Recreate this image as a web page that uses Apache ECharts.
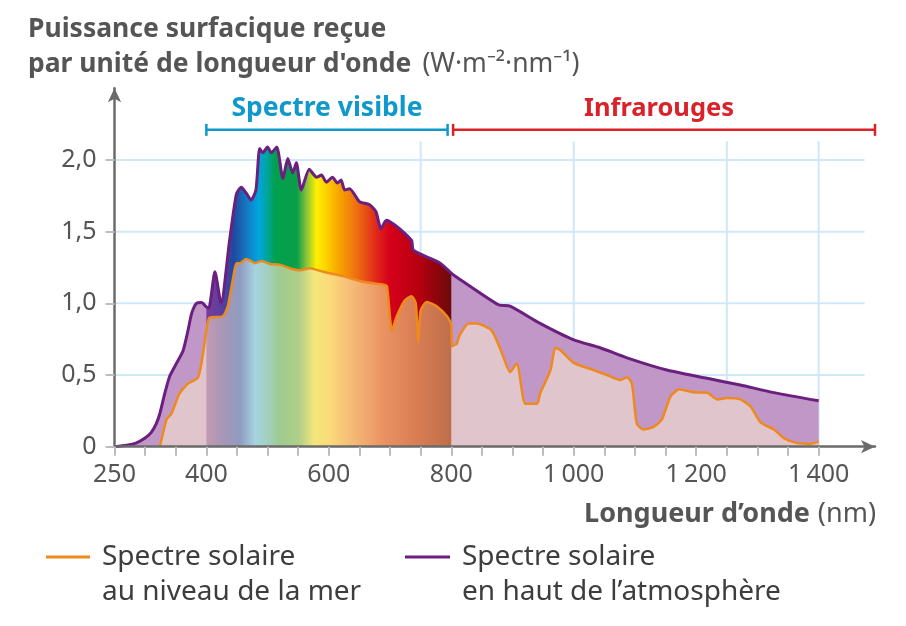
<!DOCTYPE html>
<html><head><meta charset="utf-8">
<script src="https://cdn.jsdelivr.net/npm/echarts@6/dist/echarts.min.js"></script>
<style>html,body{margin:0;padding:0;background:#fff}#c{width:906px;height:626px}</style>
</head><body><div id="c"></div>
<script>
// ---- data ----
// Solar spectrum at the top of the atmosphere (nm, W·m-2·nm-1)
const topAtmosphere = [[250,0],[270,0.01],[285,0.025],[300,0.06],[310,0.1],[318,0.16],[324,0.23],[332,0.37],[340,0.49],[351,0.58],[362,0.67],[370,0.81],[376,0.93],[384,1.0],[392,1.005],[400,0.975],[404,0.965],[414,1.22],[424,1.0],[438,1.44],[449,1.76],[457,1.81],[465,1.77],[473,1.72],[481,1.79],[487,2.08],[492,2.05],[500,2.09],[506,2.05],[515,2.09],[525,1.87],[533,2.01],[541,1.91],[547,1.98],[555,1.79],[568,1.935],[580,1.88],[588,1.895],[596,1.845],[606,1.88],[614,1.84],[620,1.86],[626,1.79],[634,1.80],[650,1.71],[666,1.69],[677,1.64],[685,1.52],[694,1.58],[735,1.44],[738,1.37],[782,1.28],[800,1.21],[803,1.20],[877,0.99],[896,0.98],[945,0.86],[1000,0.745],[1043,0.69],[1087,0.62],[1152,0.535],[1218,0.477],[1272,0.43],[1327,0.377],[1400,0.32]];
// Solar spectrum at sea level
const seaLevel = [[324,0],[329,0.09],[335,0.19],[343,0.23],[356,0.37],[370,0.44],[386,0.48],[392,0.58],[400,0.81],[405,0.90],[427,0.91],[435,0.98],[443,1.16],[449,1.28],[455,1.28],[465,1.31],[471,1.30],[479,1.28],[490,1.295],[504,1.275],[520,1.27],[536,1.245],[553,1.23],[569,1.245],[591,1.22],[623,1.19],[656,1.15],[689,1.13],[695,1.12],[703,0.81],[711,0.91],[724,1.02],[735,1.05],[742,1.00],[746,0.73],[750,0.95],[760,1.01],[776,0.98],[793,0.91],[800,0.85],[801,0.70],[809,0.72],[814,0.78],[828,0.86],[842,0.86],[866,0.81],[883,0.65],[896,0.52],[907,0.58],[921,0.30],[940,0.30],[945,0.37],[962,0.535],[970,0.69],[978,0.675],[1000,0.585],[1032,0.535],[1054,0.50],[1076,0.465],[1087,0.485],[1095,0.44],[1103,0.16],[1114,0.12],[1131,0.14],[1144,0.19],[1158,0.35],[1172,0.40],[1196,0.38],[1218,0.377],[1234,0.33],[1251,0.34],[1272,0.33],[1289,0.28],[1305,0.17],[1327,0.12],[1343,0.06],[1365,0.025],[1387,0.02],[1400,0.035]];
const visibleRange = [400, 800];
const xTickValues = [250,300,350,400,450,500,550,600,650,700,750,800,850,900,950,1000,1050,1100,1150,1200,1250,1300,1350,1400];
const xLabelValues = [250,400,600,800,1000,1200,1400];
const yLabelValues = [0,0.5,1,1.5,2];
const hGridValues = [0.5,1,1.5,2];
const hGridEnd = 1475;
const vGridValues = [750,1000,1250,1400];
const vGridTop = 2.13;
const bandStarts = [400, 803];
const bandEnds = [794, 1492];
const bandLevel = 2.21;
const bandNames = ['Spectre visible', 'Infrarouges'];

// ---- styles ----
const FONT = '"Noto Sans", sans-serif';
const bandColors = ['#0f98cc', '#d9222a'];
const bandFontSizes = [26.5, 25.5];
const vividStops = [[0,'#7a3d9c'],[0.0625,'#5b3ea0'],[0.1125,'#1f4a9f'],[0.1625,'#1577c0'],[0.2125,'#00a5df'],[0.25,'#00a49a'],[0.28,'#00a04e'],[0.37,'#0a9f48'],[0.41,'#8cc43a'],[0.45,'#fff000'],[0.49,'#fdd000'],[0.545,'#f6a200'],[0.62,'#ec6a12'],[0.695,'#e0261a'],[0.75,'#d6001a'],[0.875,'#b30010'],[1,'#6b0a0a']];
const washStops = [[0,'#c39ab3'],[0.075,'#a596b6'],[0.1375,'#8e9cc0'],[0.2,'#a6d3e0'],[0.25,'#a2d0c0'],[0.3,'#9fcb8e'],[0.38,'#b0cf88'],[0.44,'#f3e67c'],[0.5,'#fbdc7a'],[0.6,'#f5b877'],[0.725,'#ea9262'],[0.85,'#da7e54'],[1,'#bf6e4a']];
function grad(stops){return new echarts.graphic.LinearGradient(0,0,1,0,stops.map(s=>({offset:s[0],color:s[1]})));}
const inRange = p => p[0] >= visibleRange[0] && p[0] <= visibleRange[1];
const SM = 0.2;

const gridData = hGridValues.map(v => [250, v, hGridEnd, v]).concat(vGridValues.map(v => [v, 0, v, vGridTop]));
const bandData = bandStarts.map((s, i) => [s, bandEnds[i], bandLevel, i]);

const chart = echarts.init(document.getElementById('c'), null, {renderer:'canvas'});
chart.setOption({
  animation:false,
  backgroundColor:'#fff',
  grid:{left:114.5, right:31, top:88.3, bottom:179.3},
  xAxis:{type:'value', min:250, max:1492, interval:50, z:10,
    axisLine:{show:true, onZero:false, symbol:['none','arrow'], symbolSize:[10,14], lineStyle:{color:'#6b6b6b', width:2.5}},
    axisTick:{show:true, customValues:xTickValues, length:9, lineStyle:{color:'#bdbdbd', width:2}},
    axisLabel:{customValues:xLabelValues, margin:16, fontSize:25, color:'#555', fontFamily:FONT,
      formatter:v => v >= 1000 ? String(v).replace(/(\d)(\d{3})$/, '$1\u2009$2') : String(v)},
    splitLine:{show:false}},
  yAxis:{type:'value', min:0, max:2.5, interval:0.5, z:10,
    axisLine:{show:true, symbol:['none','arrow'], symbolSize:[10,14], lineStyle:{color:'#6b6b6b', width:2.5}},
    axisTick:{show:true, customValues:yLabelValues, length:9, lineStyle:{color:'#bdbdbd', width:2}},
    axisLabel:{customValues:yLabelValues, margin:18, fontSize:25, color:'#555', fontFamily:FONT,
      formatter:v => v === 0 ? '0' : v.toFixed(1).replace('.', ',')},
    splitLine:{show:false}},
  series:[
    {type:'custom', z:1, silent:true, clip:false, data:gridData,
      renderItem:(params, api) => {
        const a = api.coord([api.value(0), api.value(1)]);
        const b = api.coord([api.value(2), api.value(3)]);
        return {type:'line', shape:{x1:a[0], y1:a[1], x2:b[0], y2:b[1]}, style:{stroke:'#cfe8f7', lineWidth:2}};
      }},
    {type:'line', z:2, data:topAtmosphere, symbol:'none', smooth:SM, lineStyle:{opacity:0}, areaStyle:{color:'#c197c7', opacity:1}},
    {type:'line', z:3, data:topAtmosphere.filter(inRange), symbol:'none', smooth:SM, lineStyle:{opacity:0}, areaStyle:{color:grad(vividStops), opacity:1}},
    {type:'line', z:4, data:seaLevel, symbol:'none', smooth:SM, lineStyle:{opacity:0}, areaStyle:{color:'#e1c5cc', opacity:1}},
    {type:'line', z:5, data:seaLevel.filter(inRange), symbol:'none', smooth:SM, lineStyle:{opacity:0}, areaStyle:{color:grad(washStops), opacity:1}},
    {type:'line', z:6, name:'Spectre solaire en haut de l’atmosphère', data:topAtmosphere, symbol:'none', smooth:SM, lineStyle:{color:'#6b1f7f', width:3}},
    {type:'line', z:7, name:'Spectre solaire au niveau de la mer', data:seaLevel, symbol:'none', smooth:SM, lineStyle:{color:'#ee8a1d', width:2.5}},
    {type:'custom', z:8, silent:true, clip:false, data:bandData,
      renderItem:(params, api) => {
        const a = api.coord([api.value(0), api.value(2)]);
        const b = api.coord([api.value(1), api.value(2)]);
        const i = api.value(3);
        const col = bandColors[i];
        const st = {stroke:col, lineWidth:2.5};
        return {type:'group', children:[
          {type:'line', shape:{x1:a[0], y1:a[1], x2:b[0], y2:b[1]}, style:st},
          {type:'line', shape:{x1:a[0], y1:a[1]-6, x2:a[0], y2:a[1]+6}, style:st},
          {type:'line', shape:{x1:b[0], y1:b[1]-6, x2:b[0], y2:b[1]+6}, style:st},
          {type:'text', x:(a[0]+b[0])/2 - (i ? 5 : 0), y:a[1]-8, style:{text:bandNames[i], fill:col, font:'bold '+bandFontSizes[i]+'px '+FONT, textAlign:'center', textVerticalAlign:'bottom'}}
        ]};
      }}
  ],
  graphic:[
    {type:'text', left:28, top:15.5, style:{text:'{b|Puissance surfacique reçue}\n{b|par unité de longueur d\'onde}{r|(W·m⁻²·nm⁻¹)}',
      rich:{b:{fontWeight:'bold', fontSize:26.5, fill:'#555', lineHeight:35, fontFamily:FONT}, r:{fontSize:26.5, fill:'#555', lineHeight:35, fontFamily:FONT, padding:[0,0,0,11]}}}},
    {type:'text', right:30, top:500.5, style:{text:'{b|Longueur d’onde}{r|(nm)}',
      rich:{b:{fontWeight:'bold', fontSize:27, fill:'#555', lineHeight:35, fontFamily:FONT}, r:{fontSize:27, fill:'#555', lineHeight:35, fontFamily:FONT, padding:[0,0,0,8]}}}},
    {type:'line', shape:{x1:46, y1:557, x2:90, y2:557}, style:{stroke:'#ee8a1d', lineWidth:3}},
    {type:'text', left:102, top:539.5, style:{text:'Spectre solaire\nau niveau de la mer', fontSize:28, lineHeight:35, fill:'#3d3d3d', fontFamily:FONT}},
    {type:'line', shape:{x1:405, y1:557, x2:450, y2:557}, style:{stroke:'#6b1f7f', lineWidth:3}},
    {type:'text', left:462, top:539.5, style:{text:'Spectre solaire\nen haut de l’atmosphère', fontSize:28, lineHeight:35, fill:'#3d3d3d', fontFamily:FONT}}
  ]
});
</script></body></html>
